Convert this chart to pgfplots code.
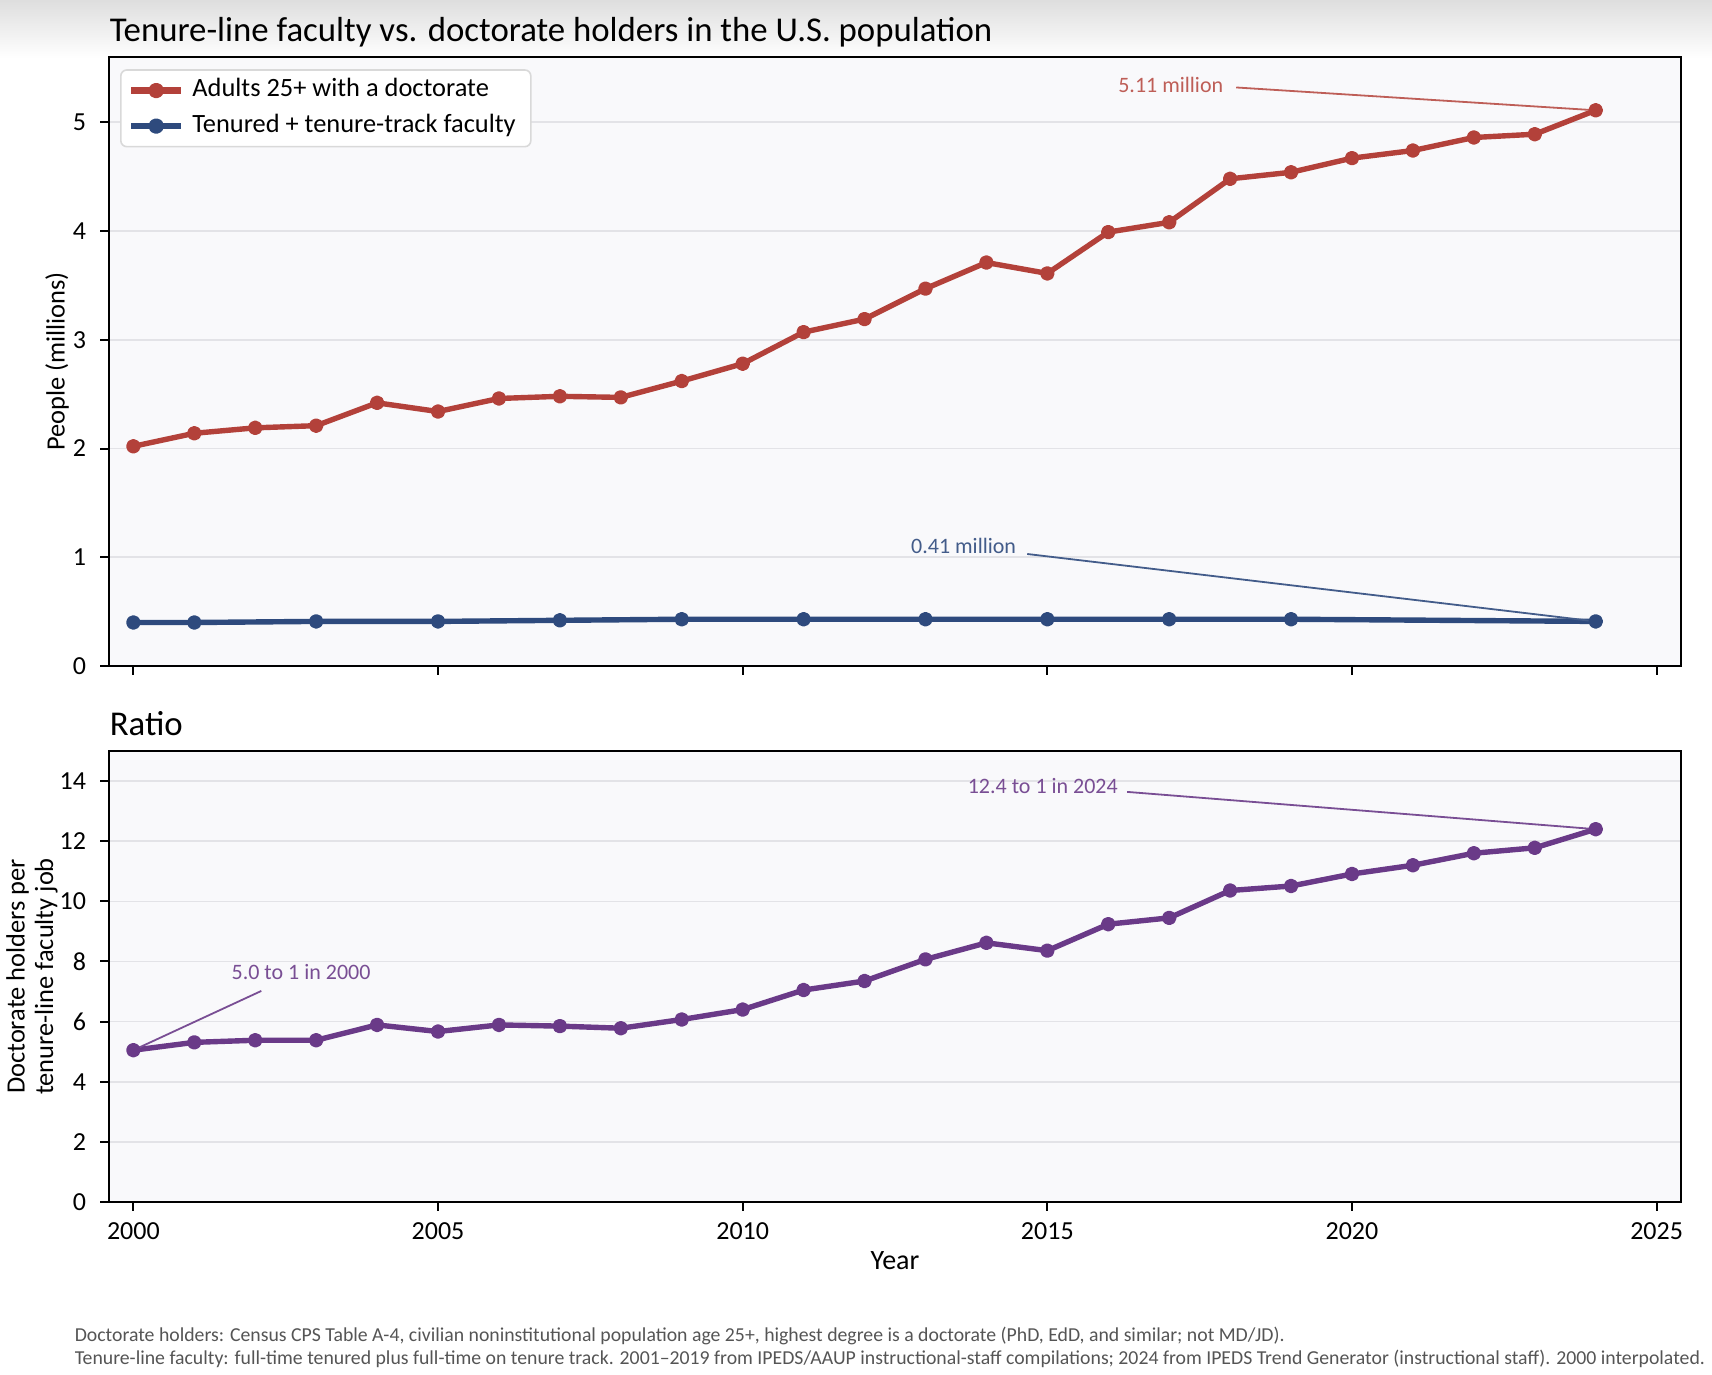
\documentclass[border=0pt]{standalone}
\usepackage{pgfplots}
\pgfplotsset{compat=1.18}
\usepackage{fontspec}
\setmainfont{Carlito}
\definecolor{cred}{HTML}{B3413A}
\definecolor{cblue}{HTML}{2E4A7D}
\definecolor{cpurple}{HTML}{6A3A88}
\definecolor{axbg}{HTML}{F9F9FB}
\definecolor{gridc}{HTML}{E3E3E7}
\definecolor{notec}{HTML}{555555}
\pgfplotsset{
  base/.style={
    scale only axis, width=393pt,
    xmin=1999.6, xmax=2025.4,
    xtick={2000,2005,...,2025},
    tick pos=left, tick align=outside,
    major tick length=2.2pt,
    every tick/.style={black, line width=0.5pt},
    axis line style={black, line width=0.7pt},
    axis background/.style={fill=axbg},
    ymajorgrids, grid style={gridc, line width=0.4pt},
    tick label style={font=\fontsize{6.5}{7}\selectfont},
    xticklabel style={yshift=0.6pt},
    /pgf/number format/assume math mode=true,
    /pgf/number format/1000 sep={},
    every axis plot/.append style={line width=1.35pt, mark=*, mark size=1.15pt, line join=round},
  }
}
\begin{document}
\begin{tikzpicture}
\useasboundingbox (0pt,0pt) rectangle (428pt,343.5pt);
\fill[white] (0pt,0pt) rectangle (428pt,343.5pt);
\shade[top color=black!13, bottom color=white] (0pt,329pt) rectangle (428pt,343.5pt);
\node[anchor=west, font=\fontsize{8.7}{9}\selectfont, inner sep=0pt] at (27.25pt,335.4pt) {Tenure-line faculty vs. doctorate holders in the U.S. population};
\node[anchor=west, font=\fontsize{8.7}{9}\selectfont, inner sep=0pt] at (27.25pt,162.5pt) {Ratio};

\begin{axis}[base, at={(27.25pt,177pt)}, anchor=south west, height=152.25pt,
  ymin=0, ymax=5.6, ytick={0,1,2,3,4,5},
  xticklabels={},
  ylabel={People (millions)},
  every axis y label/.style={at={(axis description cs:-0.0331,0.5)}, rotate=90, anchor=center, font=\fontsize{6.6}{7}\selectfont},
  legend style={at={(0.007,0.98)}, anchor=north west, draw=black!15, fill=white, rounded corners=1.5pt,
    font=\fontsize{6.6}{7}\selectfont, row sep=-1.2pt, inner xsep=1.8pt, inner ysep=0.1pt, cells={anchor=west}},
  legend image code/.code={\draw[#1, line width=1.6pt, mark repeat=2, mark phase=2] plot coordinates {(0pt,0pt) (6.25pt,0pt) (12.5pt,0pt)};},
]
\addplot[cred, mark options={fill=cred}] coordinates {
(2000,2.02) (2001,2.14) (2002,2.19) (2003,2.21) (2004,2.42) (2005,2.34)
(2006,2.46) (2007,2.48) (2008,2.47) (2009,2.62) (2010,2.78) (2011,3.07)
(2012,3.19) (2013,3.47) (2014,3.71) (2015,3.61) (2016,3.99) (2017,4.08)
(2018,4.48) (2019,4.54) (2020,4.67) (2021,4.74) (2022,4.86) (2023,4.89)
(2024,5.11)};
\addlegendentry{Adults 25+ with a doctorate}
\addplot[cblue, mark options={fill=cblue}] coordinates {
(2000,0.40) (2001,0.40) (2003,0.41) (2005,0.41) (2007,0.42) (2009,0.43)
(2011,0.43) (2013,0.43) (2015,0.43) (2017,0.43) (2019,0.43) (2024,0.41)};
\addlegendentry{Tenured + tenure-track faculty}
\draw[cred!85, line width=0.45pt] (axis cs:2018.1,5.32) -- (axis cs:2024,5.11);
\node[anchor=east, text=cred!85, font=\fontsize{5.5}{6}\selectfont, inner sep=0pt] at (axis cs:2017.9,5.34) {5.11 million};
\draw[cblue!90, line width=0.45pt] (axis cs:2014.67,1.03) -- (axis cs:2024,0.41);
\node[anchor=east, text=cblue!90, font=\fontsize{5.5}{6}\selectfont, inner sep=0pt] at (axis cs:2014.5,1.107) {0.41 million};
\end{axis}

\begin{axis}[base, at={(27.25pt,43pt)}, anchor=south west, height=112.75pt,
  ymin=0, ymax=15, ytick={0,2,...,14},
  xlabel={Year},
  every axis x label/.style={at={(axis description cs:0.5,-0.1308)}, anchor=center, font=\fontsize{7}{7.5}\selectfont},
  ylabel={Doctorate holders per\\tenure-line faculty job},
  every axis y label/.style={at={(axis description cs:-0.0490,0.5)}, rotate=90, anchor=center, align=center, font=\fontsize{6.6}{7.1}\selectfont},
]
\addplot[cpurple, mark options={fill=cpurple}] coordinates {
(2000,5.05) (2001,5.31) (2002,5.38) (2003,5.38) (2004,5.89) (2005,5.67)
(2006,5.89) (2007,5.85) (2008,5.78) (2009,6.07) (2010,6.40) (2011,7.05)
(2012,7.35) (2013,8.07) (2014,8.62) (2015,8.36) (2016,9.24) (2017,9.45)
(2018,10.36) (2019,10.51) (2020,10.91) (2021,11.20) (2022,11.60) (2023,11.78)
(2024,12.40)};
\draw[cpurple!90, line width=0.45pt] (axis cs:2016.31,13.64) -- (axis cs:2024,12.4);
\node[anchor=east, text=cpurple!90, font=\fontsize{5.5}{6}\selectfont, inner sep=0pt] at (axis cs:2016.17,13.85) {12.4 to 1 in 2024};
\draw[cpurple!90, line width=0.45pt] (axis cs:2002.1,7.02) -- (axis cs:2000,5.05);
\node[anchor=west, text=cpurple!90, font=\fontsize{5.5}{6}\selectfont, inner sep=0pt] at (axis cs:2001.6,7.64) {5.0 to 1 in 2000};
\end{axis}

\node[anchor=west, text=notec, font=\fontsize{4.94}{6}\selectfont, inner sep=0pt] at (18.5pt,9.5pt) {Doctorate holders: Census CPS Table A-4, civilian noninstitutional population age 25+, highest degree is a doctorate (PhD, EdD, and similar; not MD/JD).};
\node[anchor=west, text=notec, font=\fontsize{4.94}{6}\selectfont, inner sep=0pt] at (18.5pt,3.75pt) {Tenure-line faculty: full-time tenured plus full-time on tenure track. 2001–2019 from IPEDS/AAUP instructional-staff compilations; 2024 from IPEDS Trend Generator (instructional staff). 2000 interpolated.};
\end{tikzpicture}
\end{document}
